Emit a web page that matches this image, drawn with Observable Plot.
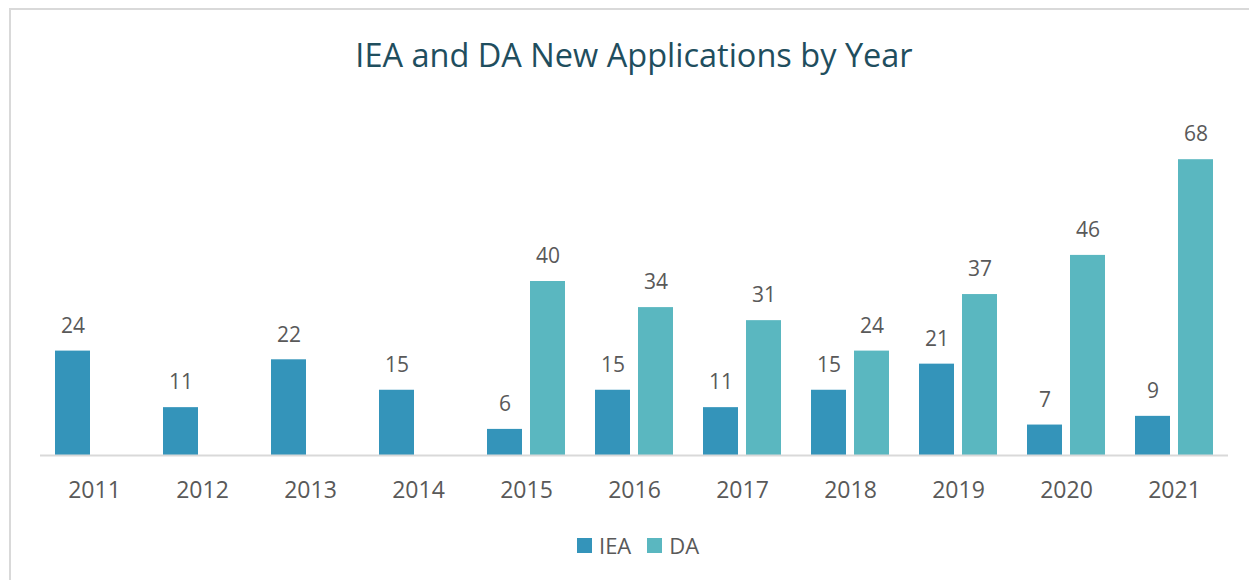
<!DOCTYPE html>
<html>
<head>
<meta charset="utf-8">
<script src="https://cdn.jsdelivr.net/npm/d3@7"></script>
<script src="https://cdn.jsdelivr.net/npm/@observablehq/plot@0.6"></script>
<style>
  html, body { margin: 0; padding: 0; background: #fff; overflow: hidden; }
  body { width: 1249px; height: 580px; position: relative; font-family: "Open Sans", sans-serif; }
  #frame { position: absolute; left: 9px; top: 8px; right: -20px; bottom: -20px; border: 2px solid #d9d9d9; }
  #chart { position: absolute; left: 0; top: 0; }
  #title { position: absolute; left: 0; width: 1268px; top: 34px; text-align: center; font-size: 32.5px; color: #1f4e5e; line-height: 42px; }
  #legend { position: absolute; left: 577px; top: 528px; display: flex; align-items: center; font-size: 22px; color: #595959; line-height: 34px; }
  #legend .sw { width: 15px; height: 15px; display: inline-block; margin-right: 7px; }
  #legend .item { display: flex; align-items: center; margin-right: 16px; }
</style>
</head>
<body>
<div id="frame"></div>
<div id="chart"></div>
<div id="title">IEA and DA New Applications by Year</div>
<div id="legend"></div>
<script>
const years = [2011, 2012, 2013, 2014, 2015, 2016, 2017, 2018, 2019, 2020, 2021];
const ieaValues = [24, 11, 22, 15, 6, 15, 11, 15, 21, 7, 9];
const daValues = [null, null, null, null, 40, 34, 31, 24, 37, 46, 68];
const seriesNames = ["IEA", "DA"];
const seriesColors = ["#3494ba", "#5ab7c0"];

const rows = [];
years.forEach((yr, i) => {
  if (ieaValues[i] != null) rows.push({year: String(yr), series: "IEA", value: ieaValues[i]});
  if (daValues[i] != null) rows.push({year: String(yr), series: "DA", value: daValues[i]});
});

const chart = Plot.plot({
  width: 1249,
  height: 580,
  marginLeft: 40,
  marginRight: 21,
  marginTop: 107,
  marginBottom: 125,
  style: {background: "transparent", fontFamily: "Open Sans, sans-serif", fontSize: "23px", color: "#595959"},
  fx: {domain: years.map(String), padding: 0, label: null, tickSize: 0, tickPadding: 26},
  x: {domain: seriesNames, paddingInner: 0.19, paddingOuter: 0.345, axis: null},
  y: {domain: [0, 80], axis: null},
  color: {domain: seriesNames, range: seriesColors},
  marks: [
    Plot.barY(rows, {fx: "year", x: "series", y: "value", fill: "series"}),
    Plot.ruleY([0], {stroke: "#d9d9d9", strokeWidth: 2}),
    Plot.text(rows, {fx: "year", x: "series", y: "value", text: d => String(d.value), dy: -25, fontSize: 21, fill: "#595959"})
  ]
});
document.getElementById("chart").appendChild(chart);

const legend = document.getElementById("legend");
seriesNames.forEach((name, i) => {
  const item = document.createElement("span");
  item.className = "item";
  const sw = document.createElement("span");
  sw.className = "sw";
  sw.style.background = seriesColors[i];
  item.appendChild(sw);
  item.appendChild(document.createTextNode(name));
  legend.appendChild(item);
});
</script>
</body>
</html>
